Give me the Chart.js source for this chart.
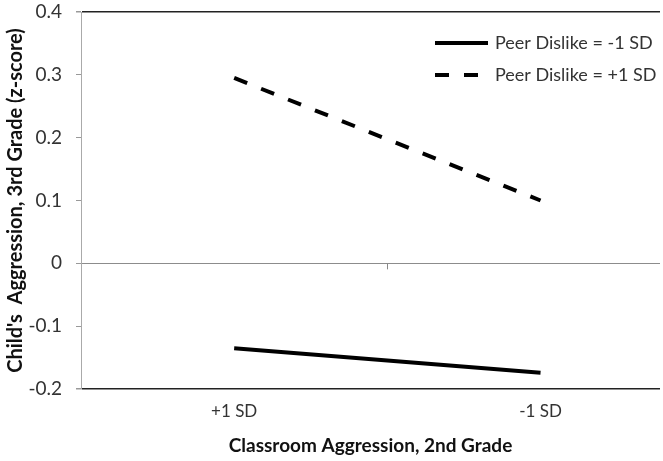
<!DOCTYPE html>
<html>
<head>
<meta charset="utf-8">
<script src="https://cdn.jsdelivr.net/npm/chart.js@4.4.1/dist/chart.umd.min.js"></script>
<style>
  html, body { margin: 0; padding: 0; background: #fff; }
  #wrap { width: 663px; height: 461px; }
</style>
</head>
<body>
<div id="wrap"><canvas id="interactionChart"></canvas></div>
<script>
// Simple slopes data
const categories = ['+1 SD', '-1 SD'];
const seriesNames = ['Peer Dislike = -1 SD', 'Peer Dislike = +1 SD'];
const lowDislike = [-0.135, -0.174];
const highDislike = [0.295, 0.100];
const yTicks = [0.4, 0.3, 0.2, 0.1, 0, -0.1, -0.2];

const FONT = 'Lato, "Open Sans", sans-serif';

// legend drawn as two stacked rows at top right
const cornerLegend = {
    id: 'cornerLegend',
    afterDatasetsDraw(chart) {
        const ctx = chart.ctx;
        const rows = [43, 75];
        ctx.save();
        chart.data.datasets.forEach((ds, i) => {
            const y = rows[i];
            ctx.beginPath();
            ctx.lineWidth = 4;
            ctx.strokeStyle = '#000';
            ctx.setLineDash(ds.borderDash || []);
            ctx.moveTo(435, y);
            ctx.lineTo(488, y);
            ctx.stroke();
            ctx.setLineDash([]);
            ctx.fillStyle = '#333';
            ctx.font = '18px ' + FONT;
            ctx.textBaseline = 'middle';
            ctx.fillText(ds.label, 495, y);
        });
        ctx.restore();
    }
};

// small tick on the zero line between the two categories
const midTick = {
    id: 'midTick',
    afterDraw(chart) {
        const x = chart.scales.x.getPixelForValue(1.5);
        const y = chart.scales.y.getPixelForValue(0);
        const ctx = chart.ctx;
        ctx.save();
        ctx.strokeStyle = '#888';
        ctx.lineWidth = 1;
        ctx.beginPath();
        ctx.moveTo(Math.round(x) + 0.5, y);
        ctx.lineTo(Math.round(x) + 0.5, y + 6);
        ctx.stroke();
        ctx.restore();
    }
};

const ctx = document.getElementById('interactionChart').getContext('2d');
new Chart(ctx, {
    type: 'line',
    data: {
        datasets: [{
            label: seriesNames[0],
            data: lowDislike.map((v, i) => ({ x: i + 1, y: v })),
            borderColor: '#000',
            borderWidth: 4,
            pointRadius: 0
        }, {
            label: seriesNames[1],
            data: highDislike.map((v, i) => ({ x: i + 1, y: v })),
            borderColor: '#000',
            borderWidth: 4,
            borderDash: [14, 15],
            pointRadius: 0
        }]
    },
    options: {
        responsive: true,
        maintainAspectRatio: false,
        animation: false,
        layout: { padding: { top: 12, right: 3, left: 0, bottom: 0 } },
        plugins: {
            legend: { display: false },
            tooltip: { enabled: false }
        },
        scales: {
            x: {
                type: 'linear',
                min: 0.5,
                max: 2.39,
                afterBuildTicks: (scale) => {
                    scale.ticks = categories.map((c, i) => ({ value: i + 1 }));
                },
                afterFit: (scale) => {
                    scale.height = 72;
                    scale.paddingLeft = 0;
                    scale.paddingRight = 0;
                },
                grid: { display: false, drawTicks: false },
                border: { display: false },
                ticks: {
                    padding: 12,
                    color: '#333',
                    font: { family: FONT, size: 17 },
                    callback: (v) => categories[v - 1]
                },
                title: {
                    display: true,
                    text: 'Classroom Aggression, 2nd Grade',
                    color: '#111',
                    font: { family: FONT, size: 19, weight: 'bold' },
                    padding: { top: 2 }
                }
            },
            y: {
                min: -0.2,
                max: 0.4,
                afterBuildTicks: (scale) => {
                    scale.ticks = yTicks.map(v => ({ value: v }));
                },
                afterFit: (scale) => {
                    scale.width = 81;
                    scale.paddingTop = 0;
                    scale.paddingBottom = 0;
                },
                grid: {
                    color: (c) => {
                        const v = c.tick ? c.tick.value : null;
                        if (v === 0.4 || v === -0.2) return '#222';
                        if (v === 0) return '#8c8c8c';
                        return 'rgba(0,0,0,0)';
                    },
                    lineWidth: (c) => (c.tick && (c.tick.value === 0.4 || c.tick.value === -0.2)) ? 1.5 : 1,
                    tickColor: '#999',
                    tickLength: 5
                },
                border: { color: '#aaa', width: 1 },
                ticks: {
                    padding: 14,
                    color: '#333',
                    font: { family: FONT, size: 19 },
                    callback: (v) => String(Math.round(v * 10) / 10)
                },
                title: {
                    display: true,
                    text: "Child's  Aggression, 3rd Grade (z-score)",
                    color: '#111',
                    font: { family: FONT, size: 20, weight: 'bold' },
                    padding: { bottom: 0 }
                }
            }
        }
    },
    plugins: [cornerLegend, midTick]
});
</script>
</body>
</html>
